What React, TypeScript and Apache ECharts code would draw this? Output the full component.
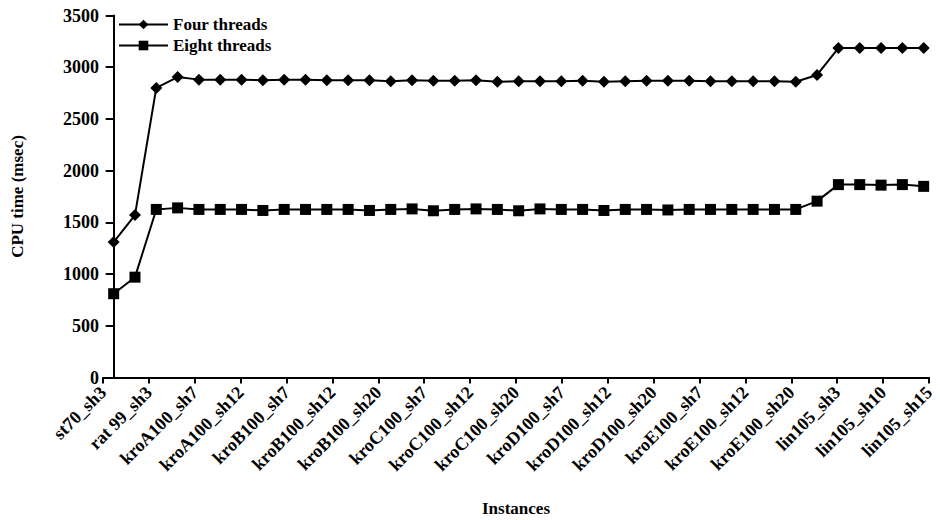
import React, { useEffect, useRef } from "react";
import * as echarts from "echarts";

const tickLabels = [
  "st70_sh3", "rat 99_sh3", "kroA100_sh7", "kroA100_sh12", "kroB100_sh7",
  "kroB100_sh12", "kroB100_sh20", "kroC100_sh7", "kroC100_sh12", "kroC100_sh20",
  "kroD100_sh7", "kroD100_sh12", "kroD100_sh20", "kroE100_sh7", "kroE100_sh12",
  "kroE100_sh20", "lin105_sh3", "lin105_sh10", "lin105_sh15",
];

const fourThreads = [
  1310, 1570, 2800, 2905, 2880, 2880, 2880, 2875, 2880, 2880,
  2875, 2875, 2875, 2865, 2875, 2870, 2870, 2875, 2860, 2865,
  2865, 2865, 2870, 2860, 2865, 2870, 2870, 2870, 2865, 2865,
  2865, 2865, 2860, 2925, 3185, 3185, 3185, 3185, 3185,
];

const eightThreads = [
  810, 970, 1625, 1640, 1625, 1625, 1625, 1615, 1625, 1625,
  1625, 1625, 1615, 1625, 1630, 1612, 1625, 1630, 1625, 1612,
  1630, 1625, 1625, 1615, 1625, 1625, 1620, 1625, 1625, 1625,
  1625, 1625, 1625, 1705, 1865, 1865, 1860, 1865, 1848,
];

const FONT = "Liberation Serif";

export default function App() {
  const ref = useRef<HTMLDivElement>(null);
  useEffect(() => {
    const chart = echarts.init(ref.current!, null, { renderer: "svg" });
    const txt = { fontFamily: FONT, fontSize: 18, fontWeight: "bold" as const, color: "#000" };
    chart.setOption({
      animation: false,
      backgroundColor: "#fff",
      grid: {
        left: 103,
        right: 11,
        top: 15.5,
        bottom: 142.5,
        containLabel: false,
        outerBoundsMode: "none",
      },
      legend: {
        orient: "vertical",
        left: 118,
        top: 16,
        padding: 0,
        itemWidth: 49,
        itemHeight: 12,
        itemGap: 4,
        textStyle: { ...txt, fontSize: 17 },
        data: ["Four threads", "Eight threads"],
      },
      xAxis: [
        {
          type: "category",
          data: tickLabels,
          boundaryGap: false,
          position: "bottom",
          axisLine: { show: true, lineStyle: { color: "#000", width: 2 } },
          axisTick: { show: true, length: 6, lineStyle: { color: "#000", width: 2 } },
          axisLabel: { ...txt, rotate: 45, margin: 12, interval: 0 },
          splitLine: { show: false },
          name: "Instances",
          nameLocation: "middle",
          nameGap: 122,
          nameMoveOverlap: false,
          nameTextStyle: { ...txt, fontSize: 17 },
        },
        {
          type: "value",
          min: -0.5,
          max: 38.25,
          show: false,
          splitLine: { show: false },
        },
      ],
      yAxis: {
        type: "value",
        min: 0,
        max: 3500,
        interval: 500,
        axisLine: { show: true, lineStyle: { color: "#000", width: 2 } },
        axisTick: { show: true, length: 8, lineStyle: { color: "#000", width: 2 } },
        axisLabel: { ...txt, margin: 4, formatter: (v: number) => String(v) },
        splitLine: { show: false },
        name: "CPU time (msec)",
        nameLocation: "middle",
        nameRotate: 90,
        nameGap: 77,
        nameMoveOverlap: false,
        nameTextStyle: { ...txt, fontSize: 17 },
      },
      series: [
        {
          name: "Four threads",
          type: "line",
          xAxisIndex: 1,
          data: fourThreads.map((v, i) => [i, v]),
          symbol: "diamond",
          symbolSize: 12,
          showAllSymbol: true,
          lineStyle: { color: "#000", width: 2 },
          itemStyle: { color: "#000" },
        },
        {
          name: "Eight threads",
          type: "line",
          xAxisIndex: 1,
          data: eightThreads.map((v, i) => [i, v]),
          symbol: "rect",
          symbolSize: 11,
          showAllSymbol: true,
          lineStyle: { color: "#000", width: 2 },
          itemStyle: { color: "#000" },
        },
      ],
    });
    return () => chart.dispose();
  }, []);
  return (
    <div
      ref={ref}
      style={{ position: "absolute", left: 0, top: 0, width: 940, height: 520 }}
    />
  );
}
